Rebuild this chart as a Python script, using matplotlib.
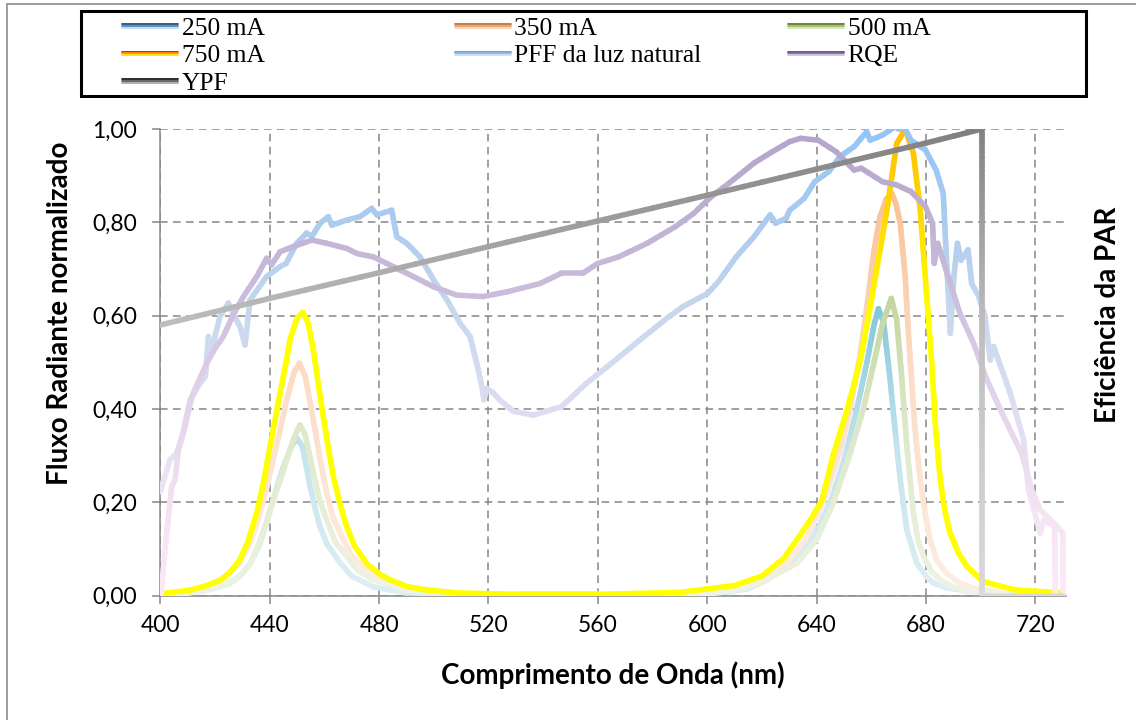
import matplotlib
matplotlib.use("Agg")
import matplotlib.pyplot as plt
import numpy as np
from matplotlib.collections import LineCollection
from matplotlib.colors import LinearSegmentedColormap
from matplotlib.lines import Line2D
from matplotlib.patches import Rectangle

# ---- data ----
x_250 = [400, 410, 417, 421, 425, 429, 433, 436.5, 439, 441.3, 443, 445, 448, 450, 452, 454.8, 456.5, 458.4, 461,
         465.8, 470, 477.8, 490, 520,
         560, 600, 608, 615, 622, 630, 636.4, 641, 645, 650, 654.7, 658.4, 661, 662.6, 664.5, 666.9, 668.1, 670.6,
         673, 676.7, 680, 682.7, 688, 695, 710, 730]
y_250 = [0.002, 0.005, 0.012, 0.018, 0.025, 0.041, 0.07, 0.113, 0.16, 0.205, 0.24, 0.276, 0.32, 0.337, 0.32,
         0.234, 0.19, 0.148, 0.11, 0.07, 0.042, 0.019, 0.006, 0.002,
         0.001, 0.004, 0.008, 0.015, 0.034, 0.07, 0.105, 0.15, 0.2, 0.29, 0.4, 0.5, 0.58, 0.615, 0.586, 0.462, 0.39,
         0.248, 0.141, 0.069, 0.042, 0.027, 0.016, 0.01, 0.003, 0.001]

x_350 = [400, 410, 417, 423, 429, 433, 436.5, 439, 441.3, 444, 446.2, 449, 450.9, 453, 456, 458.5, 460.9, 463,
         465.8, 470, 475.5, 482, 490, 510, 530,
         560, 600, 610, 620, 629, 636, 642.5, 648, 652.3, 656, 658.4, 661, 663.2, 665.5, 667.5, 669, 670.6, 672.4,
         673.6, 676, 677.9, 680, 681.5, 684, 687.6, 692, 697.4, 710, 730]
y_350 = [0.003, 0.009, 0.019, 0.038, 0.069, 0.115, 0.177, 0.235, 0.291, 0.36, 0.419, 0.48, 0.498, 0.47, 0.376,
         0.29, 0.219, 0.17, 0.134, 0.085, 0.055, 0.032, 0.019, 0.005, 0.002,
         0.002, 0.008, 0.016, 0.03, 0.069, 0.12, 0.2, 0.3, 0.4, 0.52, 0.62, 0.74, 0.812, 0.85, 0.862, 0.84, 0.798,
         0.684, 0.56, 0.355, 0.248, 0.165, 0.119, 0.075, 0.048, 0.028, 0.016, 0.005, 0.002]

x_500 = [400, 410, 417, 423, 429, 433, 436.5, 439, 441.3, 444, 446.2, 449, 451.1, 453, 456, 458.5, 460.9, 464,
         468.2, 472, 477.9, 490, 510, 530,
         560, 600, 610, 618.2, 625, 632.8, 640, 646.2, 652, 657.1, 661, 664, 667.3, 669.3, 671.2, 673, 675.4,
         677, 679.1, 682, 685.2, 690, 695, 710, 730]
y_500 = [0.002, 0.006, 0.012, 0.023, 0.041, 0.07, 0.119, 0.16, 0.205, 0.25, 0.291, 0.34, 0.366, 0.345, 0.262,
         0.2, 0.162, 0.115, 0.084, 0.055, 0.034, 0.012, 0.004, 0.002,
         0.001, 0.005, 0.012, 0.025, 0.045, 0.069, 0.12, 0.2, 0.3, 0.4, 0.5, 0.58, 0.637, 0.591, 0.462, 0.319,
         0.177, 0.12, 0.084, 0.052, 0.034, 0.018, 0.01, 0.003, 0.001]

x_750 = [400, 411, 416, 422, 425.5, 429, 432, 435.3, 438, 440.1, 443.8, 446, 447.4, 450, 452.1, 454, 456, 458,
         459.6, 461.5, 463.3, 466, 468.2, 471, 475.5, 480, 484, 490, 496, 508, 530, 560, 590, 610, 620, 628, 634,
         638, 642, 646, 651, 656, 659.6, 662, 665.7, 669.3, 672.4, 675.4, 677.9, 680.3, 682.1, 683.5, 685.2,
         686.8, 688.8, 692, 695, 701, 713, 730]
y_750 = [0.004, 0.012, 0.02, 0.033, 0.05, 0.076, 0.115, 0.177, 0.25, 0.319, 0.434, 0.5, 0.548, 0.595, 0.607,
         0.585, 0.526, 0.445, 0.384, 0.315, 0.255, 0.19, 0.148, 0.107, 0.069, 0.047, 0.034, 0.02, 0.013, 0.006,
         0.003, 0.003, 0.007, 0.022, 0.042, 0.08, 0.13, 0.165, 0.205, 0.3, 0.395, 0.505, 0.619, 0.7, 0.826, 0.969,
         1.0, 0.948, 0.826, 0.64, 0.5, 0.36, 0.25, 0.185, 0.134, 0.09, 0.062, 0.03, 0.012, 0.006]

x_pff = [400, 403.5, 406, 408.4, 410.9, 414.5, 416.5, 417.6, 418.5, 421.8, 424.9, 427, 429.2, 431, 432.8, 436,
         438.9, 443.8, 446, 449.9, 453.5, 455.5, 458.4, 461.4, 462.7, 468.2, 473, 477.3, 479.2, 484.6, 486.5,
         490.1, 495, 499.9, 504.8, 509.6, 513.3, 515.7, 517.6, 518.3, 519.4, 521.8, 524.2, 529.1, 536.5, 541,
         546.7, 555.8, 565, 575.4, 584.5, 591, 600.2, 604.1, 610.6, 617.1, 623, 625, 628.9, 630.2, 635.4, 639.3,
         644.5, 648.5, 653.7, 658.3, 659.6, 664.1, 668.7, 670, 671.9, 674.5, 679.8, 683.7, 686.3, 687.5, 688.9,
         690.2, 691.5, 692.8, 695.4, 696.7, 699.3, 701.5, 703.5, 704.7, 710.8, 715.7, 717.5, 721.8, 723, 727,
         727.3]
y_pff = [0.223, 0.291, 0.305, 0.351, 0.419, 0.455, 0.47, 0.555, 0.52, 0.598, 0.627, 0.6, 0.576, 0.537, 0.634,
         0.66, 0.684, 0.705, 0.712, 0.755, 0.777, 0.77, 0.798, 0.812, 0.794, 0.805, 0.812, 0.83, 0.816, 0.826,
         0.769, 0.755, 0.726, 0.677, 0.634, 0.584, 0.555, 0.498, 0.448, 0.42, 0.444, 0.434, 0.419, 0.395, 0.387,
         0.395, 0.405, 0.455, 0.498, 0.548, 0.591, 0.619, 0.648, 0.673, 0.726, 0.769, 0.816, 0.798, 0.809, 0.826,
         0.851, 0.887, 0.909, 0.941, 0.962, 0.994, 0.976, 0.987, 1.005, 1.0, 1.005, 0.976, 0.955, 0.912, 0.862,
         0.72, 0.562, 0.684, 0.755, 0.719, 0.741, 0.669, 0.641, 0.6, 0.505, 0.534, 0.434, 0.334, 0.226, 0.134,
         0.162, 0.148, 0.005]

x_rqe = [400, 400.3, 402.3, 404.2, 405.4, 406.6, 408.5, 411.5, 414, 417, 420, 423, 426.5, 430.4, 435.3, 438.9,
         440.7, 443.8, 448.6, 455.4, 460.9, 468.2, 472, 477.9, 485.2, 492.5, 499.9, 508.4, 518.1, 526.7, 538.9,
         546.7, 554.5, 560, 567.6, 578, 588.4, 595, 601.5, 608, 617.1, 623.7, 630.2, 634.1, 640.6, 647.2, 653.7,
         656.3, 664.1, 669.3, 674.5, 679.8, 682.4, 683, 684.3, 688.9, 692.4, 697.4, 702.3, 707.8, 710.8, 715,
         718.7, 721.8, 726, 730, 730.2]
y_rqe = [0.0, 0.005, 0.134, 0.234, 0.248, 0.312, 0.35, 0.426, 0.46, 0.498, 0.53, 0.555, 0.6, 0.641, 0.684, 0.723,
         0.709, 0.737, 0.748, 0.762, 0.755, 0.744, 0.733, 0.726, 0.705, 0.684, 0.662, 0.644, 0.641, 0.651, 0.669,
         0.691, 0.691, 0.712, 0.726, 0.755, 0.791, 0.819, 0.855, 0.884, 0.927, 0.951, 0.973, 0.98, 0.976, 0.951,
         0.912, 0.916, 0.887, 0.88, 0.866, 0.834, 0.798, 0.712, 0.755, 0.669, 0.605, 0.541, 0.462, 0.391, 0.355,
         0.305, 0.226, 0.184, 0.16, 0.134, 0.005]

x_ypf = [400, 440, 480, 520, 560, 600, 640, 680, 700.5, 700.5, 730]
y_ypf = [0.58, 0.637, 0.692, 0.748, 0.803, 0.858, 0.914, 0.970, 1.0, 0.0, 0.0]

x_ticks = [400, 440, 480, 520, 560, 600, 640, 680, 720]
y_ticks = [0.0, 0.2, 0.4, 0.6, 0.8, 1.0]
y_tick_labels = ["0,00", "0,20", "0,40", "0,60", "0,80", "1,00"]

# series: name, x, y, gradient stops along the line, legend stripe colours (top -> bottom)
series = [
    ("250 mA", x_250, y_250, [(0, "#DDEFF5"), (0.5, "#C4E4EE"), (1, "#84C8DA")], ["#1F4E79", "#4F81BD", "#B7DEE8"]),
    ("350 mA", x_350, y_350, [(0, "#FDEDE2"), (0.55, "#FCDCC6"), (1, "#F9C295")], ["#C0703A", "#E9A06A", "#FAD3B5"]),
    ("500 mA", x_500, y_500, [(0, "#EEF3E4"), (0.55, "#DEE9CB"), (1, "#C3D69E")], ["#5E7A2C", "#9BBB59", "#D7E4BD"]),
    ("750 mA", x_750, y_750, [(0, "#FFFF00"), (0.6, "#FFFF00"), (0.82, "#FFD800"), (1, "#FFC000")],
     ["#FF0000", "#FF8C00", "#FFE000"]),
    ("PFF da luz natural", x_pff, y_pff,
     [(0, "#FDE8F7"), (0.2, "#F3E3F6"), (0.4, "#DCDDF2"), (0.6, "#C8D8EE"), (0.8, "#ABCBF0"), (1, "#92C5F6")],
     ["#5B9BD5", "#8DB4E2", "#C6DCF3"]),
    ("RQE", x_rqe, y_rqe,
     [(0, "#FDE9F8"), (0.2, "#F4E2F3"), (0.45, "#E0D2E9"), (0.65, "#CBBEDC"), (1, "#B4A5CB")],
     ["#5F497A", "#8064A2", "#CCC0DA"]),
    ("YPF", x_ypf, y_ypf, [(0, "#DADADA"), (0.58, "#BEBEBE"), (1, "#808080")], ["#1A1A1A", "#595959", "#A6A6A6"]),
]


def gradient_line(ax, x, y, stops, lw=4.0, z=3):
    # colour follows the height of the line, like an Excel gradient line
    x = np.asarray(x, float)
    y = np.asarray(y, float)
    top = y.max()
    cmap = LinearSegmentedColormap.from_list("grad", stops)
    segs, cols = [], []
    for i in range(len(x) - 1):
        n = max(1, int(np.ceil(abs(y[i + 1] - y[i]) / 0.01)))
        xs = np.linspace(x[i], x[i + 1], n + 1)
        ys = np.linspace(y[i], y[i + 1], n + 1)
        for j in range(n):
            segs.append([(xs[j], ys[j]), (xs[j + 1], ys[j + 1])])
            cols.append(cmap(np.clip((ys[j] + ys[j + 1]) / 2 / top, 0, 1)))
    lc = LineCollection(segs, colors=cols, linewidths=lw, capstyle="round", joinstyle="round", zorder=z)
    ax.add_collection(lc)


W, H = 1136, 720
fig = plt.figure(figsize=(W / 100, H / 100), dpi=100)
ax = fig.add_axes([160.3 / W, 1 - 595.7 / H, (1066 - 160.3) / W, (595.7 - 129) / H])

grid_col = "#868686"
for i, (name, xs, ys, stops, _) in enumerate(series):
    gradient_line(ax, xs, ys, stops, z=3 + i)

ax.set_xlim(400, 731.2)
ax.set_ylim(0, 1)
ax.set_xticks(x_ticks)
ax.set_yticks(y_ticks)
ax.set_yticklabels(y_tick_labels)
ax.set_axisbelow(True)
ax.grid(True, color=grid_col, linewidth=1.1, linestyle=(0, (5, 3.5)))
for s in ["top", "right"]:
    ax.spines[s].set_visible(False)
for s in ["left", "bottom"]:
    ax.spines[s].set_color(grid_col)
    ax.spines[s].set_linewidth(1.1)
ax.tick_params(axis="both", length=5.8, width=1.1, color=grid_col, labelsize=16.5)
ax.tick_params(axis="x", pad=8)
ax.tick_params(axis="y", pad=11)
for lab in ax.get_xticklabels() + ax.get_yticklabels():
    lab.set_family("Lato")

# axis titles
fig.text(612.5 / W, 1 - 675 / H, "Comprimento de Onda (nm)", ha="center", va="center",
         fontsize=20, fontweight="bold", family="Lato")
fig.text(60 / W, 1 - 313.5 / H, "Fluxo Radiante normalizado", ha="center", va="center",
         rotation=90, fontsize=20, fontweight="bold", family="Lato")
fig.text(1108 / W, 1 - 315 / H, "Eficiência da PAR", ha="center", va="center",
         rotation=90, fontsize=20, fontweight="bold", family="Lato")

# outer chart border
fig.add_artist(Rectangle((6.5 / W, -0.05), 1.2, 1 - 4 / H + 0.05, transform=fig.transFigure,
                         fill=False, edgecolor="#8C8C8C", linewidth=1.2, clip_on=False))

# legend box, drawn by hand to keep Excel's row order
fig.add_artist(Rectangle((81 / W, 1 - 96 / H), (1086 - 81) / W, 85 / H, transform=fig.transFigure,
                         fill=False, edgecolor="black", linewidth=2.2))
col_x = [122, 455, 788]
row_base = [34.7, 62, 89.7]
for k, (name, _, _, _, stripe) in enumerate(series):
    r, c = divmod(k, 3)
    x0 = col_x[c]
    yc = row_base[r] - 8.7
    for off, colr in zip([-1.7, 0, 1.7], stripe):
        fig.add_artist(Line2D([x0 / W, (x0 + 56) / W], [1 - (yc + off) / H] * 2, transform=fig.transFigure,
                              color=colr, linewidth=1.3, solid_capstyle="round"))
    fig.text((x0 + 59.5) / W, 1 - row_base[r] / H, name, ha="left", va="baseline",
             fontsize=18.4, family="Liberation Serif")

fig.savefig("out.png", dpi=100)
